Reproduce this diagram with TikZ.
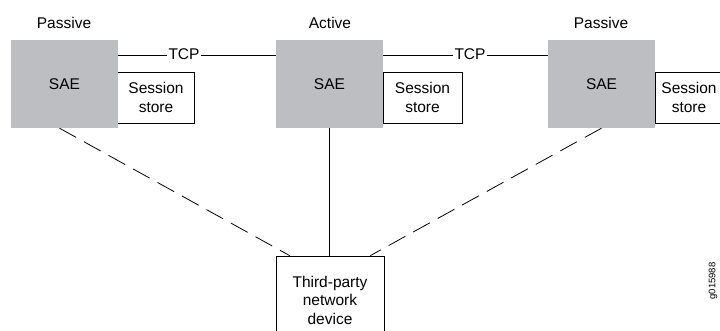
\documentclass[tikz,border=0pt]{standalone}
\usepackage{fontspec}
\setmainfont{Liberation Sans}
\usepackage{tikz}
\usetikzlibrary{positioning,calc}
\definecolor{saegray}{RGB}{189,190,193}
\tikzset{
  sae/.style={
    shape = rectangle,
    fill = saegray,
    minimum width = 107pt,
    minimum height = 88pt,
    inner sep = 0pt
  },
  store/.style={
    shape = rectangle,
    draw,
    fill = white,
    line width = 0.8pt,
    minimum height = 51pt,
    inner sep = 0pt,
    align = center
  },
  role/.style={
    inner sep = 2pt
  },
  link/.style={
    line width = 0.8pt
  },
  backup/.style={
    line width = 0.8pt,
    dash pattern = on 19pt off 9pt
  },
  every picture/.style = {
    font = \fontsize{15.5}{18.5}\selectfont
  }
}

\begin{document}
\begin{tikzpicture}[x=1pt,y=1pt]
        \useasboundingbox (0,0) rectangle (720,331);
        \clip (0,0) rectangle (720,331);

        % session stores first, the SAE boxes cover their left edges
        \node[store, minimum width=77pt] (store1) at (156,233.5) {Session\\store};
        \node[store, minimum width=79pt] (store2) at (422.5,233.5) {Session\\store};
        \node[store, minimum width=68pt] (store3) at (689,233.5) {Session\\store};

        \node[sae] (sae1) at (64.5,247) {SAE};
        \node[sae] (sae2) at (329.5,247) {SAE};
        \node[sae] (sae3) at (601.5,247) {SAE};

        \node[role] (role1) at (64,308) {Passive};
        \node[role] (role2) at (330,308) {Active};
        \node[role] (role3) at (601,308) {Passive};

        \node[store, minimum width=108pt, minimum height=88pt] (dev) at (330,31) {Third-party\\network\\device};

        \node[inner sep=1pt] (tcp1) at (184,277) {TCP};
        \node[inner sep=1pt] (tcp2) at (470,277) {TCP};

        \draw[link] (sae1.east |- 0,276) -- (tcp1.west |- 0,276);
        \draw[link] (tcp1.east |- 0,276) -- (sae2.west |- 0,276);
        \draw[link] (sae2.east |- 0,276) -- (tcp2.west |- 0,276);
        \draw[link] (tcp2.east |- 0,276) -- (sae3.west |- 0,276);

        \draw[link] (sae2.south) -- (sae2.south |- dev.north);
        \draw[backup] ([xshift=-5pt]sae1.south) -- ([xshift=14pt]dev.north west);
        \draw[backup] (sae3.south) -- ([xshift=-14pt]dev.north east);

        \node[rotate=90, font=\fontsize{9.5}{10}\selectfont] (fig) at (713,50) {g015988};
\end{tikzpicture}
\end{document}
